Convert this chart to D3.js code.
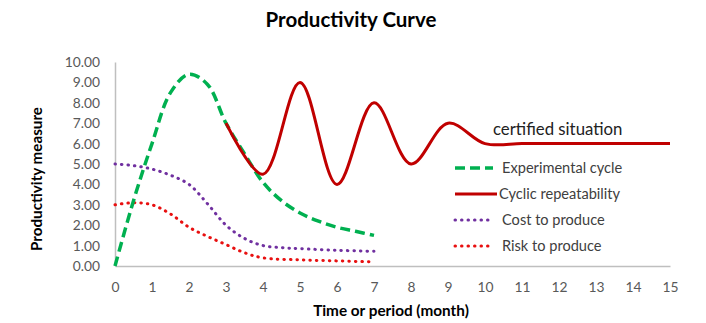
<!DOCTYPE html>
<html><head><meta charset="utf-8">
<script src="https://cdn.jsdelivr.net/npm/d3@7/dist/d3.min.js"></script>
<style>body{margin:0;background:#fff;} text{font-family:Lato,"Open Sans",sans-serif;}</style>
</head><body>
<svg id="c" width="706" height="323"></svg>
<script>
// Data
const xTicks = [0,1,2,3,4,5,6,7,8,9,10,11,12,13,14,15];
const yTicks = [0,1,2,3,4,5,6,7,8,9,10];
const expX = [0,0.5,1,1.5,2,2.5,3,3.5,4,4.5,5,5.5,6,6.5,7];
const expY = [0,3.2,6.0,8.5,9.4,8.9,7.0,5.5,4.1,3.2,2.6,2.2,1.9,1.7,1.5];
const cycX = [3,4,5,6,7,8,9,10,11,12,13,14,15];
const cycY = [7.0,4.5,9.0,4.0,8.0,5.0,7.0,6.0,6.0,6.0,6.0,6.0,6.0];
const costX = [0,0.5,1,1.5,2,2.5,3,3.5,4,4.5,5,6,7];
const costY = [5.0,4.92,4.75,4.45,4.0,3.05,2.0,1.35,1.0,0.9,0.85,0.77,0.72];
const riskX = [0,0.5,1,1.5,2,2.5,3,3.5,4,5,6,7];
const riskY = [3.0,3.1,3.0,2.55,1.9,1.45,1.05,0.65,0.4,0.3,0.25,0.2];
const seriesNames = ["Experimental cycle","Cyclic repeatability","Cost to produce","Risk to produce"];

const svg = d3.select("#c");
const x = d3.scaleLinear().domain([0,15]).range([115,670]);
const y = d3.scaleLinear().domain([0,10]).range([266,62]);

// Title
svg.append("text").attr("x",351).attr("y",27).attr("text-anchor","middle")
  .attr("font-size",20.5).attr("font-weight","bold").attr("fill","#000").text("Productivity Curve");

// Axes
const gx = svg.append("g").attr("transform","translate(0,266)")
  .call(d3.axisBottom(x).tickValues(xTicks).tickSize(0).tickPadding(16).tickFormat(d3.format("d")));
const gy = svg.append("g").attr("transform","translate(115,0)")
  .call(d3.axisLeft(y).tickValues(yTicks).tickSize(0).tickPadding(15).tickFormat(d3.format(".2f")));
[gx,gy].forEach(g=>{
  g.select(".domain").attr("stroke","#bfbfbf").attr("stroke-width",1.5);
  g.selectAll("text").attr("font-family","Lato,sans-serif").attr("font-size",13.8).attr("fill","#595959");
});

svg.append("text").attr("x",391).attr("y",316).attr("text-anchor","middle")
  .attr("font-size",15.3).attr("font-weight","bold").attr("fill","#000").text("Time or period (month)");
svg.append("text").attr("transform","translate(42,179) rotate(-90)").attr("text-anchor","middle")
  .attr("font-size",15.2).attr("font-weight","bold").attr("fill","#000").text("Productivity measure");

const curve = d3.curveCatmullRom.alpha(0.5);
const line = d3.line().x(d=>x(d[0])).y(d=>y(d[1])).curve(curve);
const zip = (a,b)=>a.map((v,i)=>[v,b[i]]);

const styles = [
  {color:"#00B050", w:3.5, dash:"10,5", cap:"butt"},
  {color:"#C00000", w:3, dash:null, cap:"butt"},
  {color:"#7030A0", w:3, dash:"0.5,6", cap:"round"},
  {color:"#E81010", w:3, dash:"0.5,6", cap:"round"}
];
const data = [zip(expX,expY), zip(cycX,cycY), zip(costX,costY), zip(riskX,riskY)];
const order = [3,2,0,1];
order.forEach(i=>{
  const s = styles[i];
  svg.append("path").attr("d",line(data[i])).attr("fill","none")
    .attr("stroke",s.color).attr("stroke-width",s.w).attr("stroke-linecap",s.cap)
    .attr("stroke-dasharray",s.dash);
});

// Annotation
svg.append("text").attr("x",493).attr("y",135).attr("font-size",16.8).attr("fill","#222").text("certified situation");

// Legend
const legY = [168,194,220,246];
seriesNames.forEach((n,i)=>{
  const s = styles[i];
  svg.append("line").attr("x1",455).attr("x2",i===1?497:493).attr("y1",legY[i]).attr("y2",legY[i])
    .attr("stroke",s.color).attr("stroke-width",s.w).attr("stroke-linecap",s.cap).attr("stroke-dasharray",s.dash);
  svg.append("text").attr("x",i===1?499:502).attr("y",legY[i]+5).attr("font-size",14.6).attr("fill","#404040").text(n);
});
</script>
</body></html>
